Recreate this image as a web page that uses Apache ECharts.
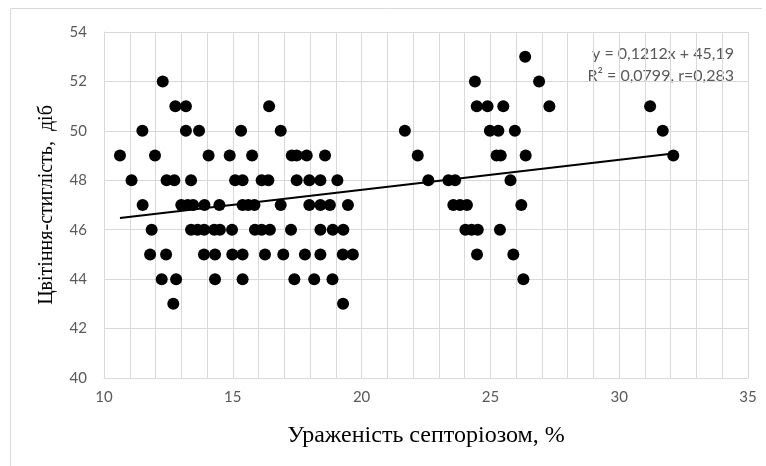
<!DOCTYPE html>
<html>
<head>
<meta charset="utf-8">
<script src="https://cdn.jsdelivr.net/npm/echarts@6/dist/echarts.min.js"></script>
<style>
html,body{margin:0;padding:0;background:#fff;}
#chart{width:766px;height:466px;}
</style>
</head>
<body>
<div id="chart"></div>
<script>
// Data: x values grouped by their (integer) y value
const y53 = [26.35];
const y52 = [12.28, 24.4, 26.89];
const y51 = [12.77, 13.18, 16.41, 24.47, 24.89, 25.5, 27.29, 31.2];
const y50 = [11.49, 13.18, 13.69, 15.32, 16.86, 21.68, 24.98, 25.31, 25.95, 31.69];
const y49 = [10.62, 11.98, 14.06, 14.88, 15.75, 17.29, 17.48, 17.87, 18.58, 22.18, 25.24, 25.4, 26.37, 32.1];
const y48 = [11.07, 12.43, 12.73, 13.38, 15.09, 15.38, 16.12, 16.38, 17.48, 17.97, 18.4, 19.06, 22.59, 23.37, 23.63, 25.78];
const y47 = [11.5, 13.0, 13.25, 13.46, 13.9, 14.48, 15.38, 15.6, 15.84, 16.86, 17.97, 18.4, 18.77, 19.47, 23.56, 23.82, 24.09, 26.2];
const y46 = [11.85, 13.38, 13.63, 13.89, 14.28, 14.5, 14.97, 15.86, 16.12, 16.44, 17.26, 18.4, 18.88, 19.29, 24.03, 24.27, 24.51, 25.37];
const y45 = [11.79, 12.41, 13.88, 14.31, 14.98, 15.38, 16.25, 16.96, 17.8, 18.4, 19.27, 19.66, 24.48, 25.89];
const y44 = [12.24, 12.8, 14.31, 15.38, 17.39, 18.16, 18.87, 26.28];
const y43 = [12.69, 19.28];

const rowY = [53, 52, 51, 50, 49, 48, 47, 46, 45, 44, 43];
const rowX = [y53, y52, y51, y50, y49, y48, y47, y46, y45, y44, y43];

// Trend line (from the equation shown in the chart)
const slope = 0.1212;
const intercept = 45.19;
const trendX = [10.62, 32.1];

const xTicks = [10, 15, 20, 25, 30, 35];
const yTicks = [40, 42, 44, 46, 48, 50, 52, 54];

const eqLine1 = 'y = 0,1212x + 45,19';
const eqLine2 = 'R² = 0,0799, r=0,283';
const xTitle = 'Ураженість септоріозом, %';
const yTitle = 'Цвітіння-стиглість,  діб';

const points = [];
rowX.forEach((xs, i) => xs.forEach(x => points.push([x, rowY[i]])));
const trend = trendX.map(x => [x, slope * x + intercept]);

const chart = echarts.init(document.getElementById('chart'));
const gridColor = '#d9d9d9';
const labelColor = '#595959';
chart.setOption({
  animation: false,
  backgroundColor: '#fff',
  grid: { left: 104, right: 18, top: 32, bottom: 88, containLabel: false },
  xAxis: {
    type: 'value', min: xTicks[0], max: xTicks[xTicks.length - 1], interval: 5,
    axisLine: { show: true, lineStyle: { color: gridColor, width: 1 } },
    axisTick: { show: false },
    minorTick: { show: false, splitNumber: 5 },
    splitLine: { show: true, lineStyle: { color: gridColor, width: 1 } },
    minorSplitLine: { show: true, lineStyle: { color: gridColor, width: 1 } },
    axisLabel: { color: labelColor, fontSize: 15, fontFamily: 'Lato', margin: 12 },
    name: xTitle, nameLocation: 'middle', nameGap: 46,
    nameTextStyle: { fontFamily: 'Liberation Serif', fontSize: 24, color: '#000' }
  },
  yAxis: {
    type: 'value', min: yTicks[0], max: yTicks[yTicks.length - 1], interval: 2,
    axisLine: { show: true, lineStyle: { color: gridColor, width: 1 } },
    axisTick: { show: false },
    splitLine: { show: true, lineStyle: { color: gridColor, width: 1 } },
    axisLabel: { color: labelColor, fontSize: 15, fontFamily: 'Lato', margin: 17 },
    name: yTitle, nameLocation: 'middle', nameGap: 47,
    nameTextStyle: { fontFamily: 'Liberation Serif', fontSize: 20, color: '#000' }
  },
  series: [
    {
      type: 'scatter', data: points, symbol: 'circle', symbolSize: 12,
      itemStyle: { color: '#000', opacity: 1 }, z: 3
    },
    {
      type: 'line', data: trend, showSymbol: false, symbol: 'none',
      lineStyle: { color: '#000', width: 2 }, z: 4, silent: true
    }
  ],
  graphic: [
    { type: 'line', shape: { x1: 10.5, y1: 8.5, x2: 762, y2: 8.5 }, style: { stroke: '#d9d9d9', lineWidth: 1 } },
    { type: 'line', shape: { x1: 10.5, y1: 8.5, x2: 10.5, y2: 466 }, style: { stroke: '#d9d9d9', lineWidth: 1 } },
    { type: 'text', right: 32, top: 46, style: { text: eqLine1, fill: labelColor, font: '16px Lato', textAlign: 'right' } },
    { type: 'text', right: 32, top: 68, style: { text: eqLine2, fill: labelColor, font: '16px Lato', textAlign: 'right' } }
  ]
});
</script>
</body>
</html>
